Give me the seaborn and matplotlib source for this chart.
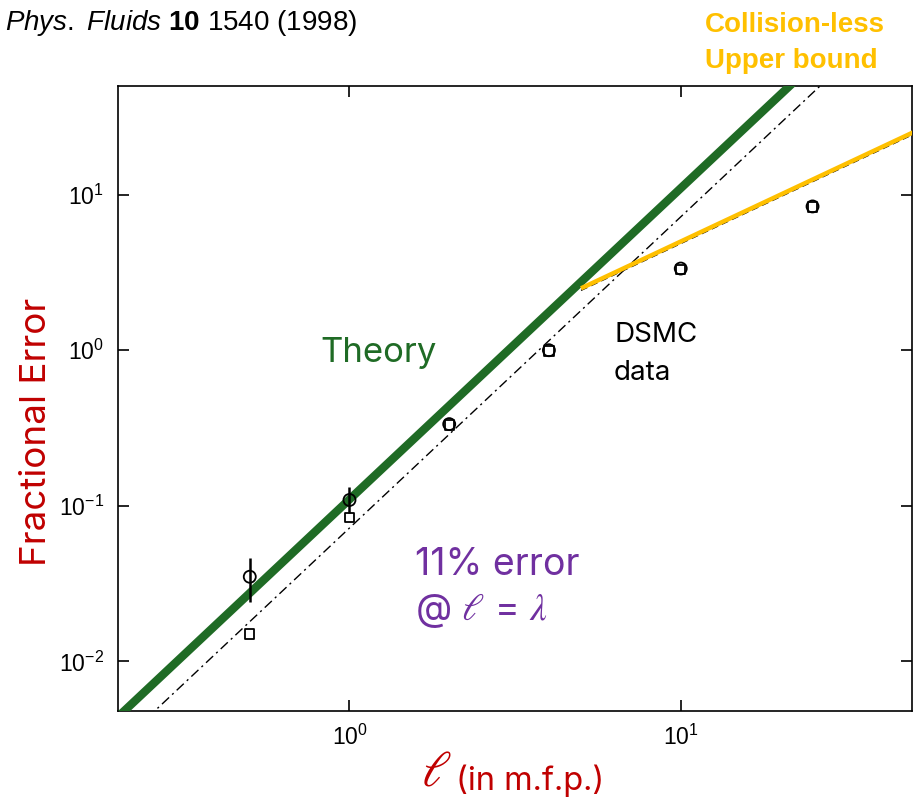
import math
import matplotlib
matplotlib.use("Agg")
import matplotlib.pyplot as plt
import seaborn as sns
from matplotlib.ticker import FuncFormatter, NullLocator

sns.set_style("ticks")
plt.rcParams['font.family'] = ['Liberation Sans', 'DejaVu Sans']
plt.rcParams['text.color'] = 'black'
plt.rcParams['mathtext.fontset'] = 'custom'
plt.rcParams['mathtext.rm'] = 'Liberation Sans'
plt.rcParams['mathtext.it'] = 'Liberation Sans:italic'
plt.rcParams['mathtext.bf'] = 'Liberation Sans:bold'

# DSMC data
ell_pts = [0.5, 1, 2, 4, 10, 25]
err_circle = [0.035, 0.109, 0.335, 1.0, 3.35, 8.4]
err_square = [0.015, 0.084, 0.33, 0.99, 3.3, 8.35]
bar_ell = [0.5, 1]
bar_lo = [0.024, 0.090]
bar_hi = [0.046, 0.132]

# straight lines in log-log, end points
theory_ell = [0.2, 25]
theory_err = [0.0044, 68.75]
fit_ell = [0.2, 30]
fit_err = [0.00288, 64.8]
bound_ell = [5, 60]
bound_err = [2.5, 30]

GREEN = "#1F6B25"
GOLD = "#FFC000"
RED = "#C00000"
PURPLE = "#7030A0"

fig = plt.figure(figsize=(9.13, 8), dpi=100)
ax = fig.add_axes([0.1292, 0.1113, 0.8700, 0.7813])

sns.lineplot(x=fit_ell, y=fit_err, ax=ax, color="black", lw=1.0,
             ls=(0, (7, 3, 1.5, 3)), zorder=2)
sns.lineplot(x=bound_ell, y=[v * 0.97 for v in bound_err], ax=ax, color="black",
             lw=1.0, ls=(0, (5, 3)), zorder=2)
sns.lineplot(x=theory_ell, y=theory_err, ax=ax, color=GREEN, lw=6,
             solid_capstyle="butt", zorder=3)
sns.lineplot(x=bound_ell, y=bound_err, ax=ax, color=GOLD, lw=3.2,
             solid_capstyle="butt", zorder=3)

ax.vlines(bar_ell, bar_lo, bar_hi, color="black", lw=1.8, zorder=4)
sns.scatterplot(x=ell_pts, y=err_circle, ax=ax, marker="o", s=75,
                facecolor="none", edgecolor="black", linewidth=1.3, zorder=5)
sns.scatterplot(x=ell_pts, y=err_square, ax=ax, marker="s", s=45,
                facecolor="none", edgecolor="black", linewidth=1.3, zorder=5)

ax.set_xscale("log")
ax.set_yscale("log")
ax.set_xlim(0.2, 50)
ax.set_ylim(0.0048, 50)
ax.set_xticks([1, 10])
ax.set_yticks([0.01, 0.1, 1, 10])
ax.xaxis.set_minor_locator(NullLocator())
ax.yaxis.set_minor_locator(NullLocator())
fmt = FuncFormatter(lambda v, p: r"$\mathregular{10^{%d}}$" % round(math.log10(v)))
ax.xaxis.set_major_formatter(fmt)
ax.yaxis.set_major_formatter(fmt)
ax.tick_params(direction="in", length=8, width=1.2, top=True, right=True,
               labelsize=16.5, pad=10, colors="black")
for s in ax.spines.values():
    s.set_linewidth(1.2)
    s.set_color("black")
ax.set_xlabel("")
ax.set_ylabel("")

fig.text(0.005, 1 - 30 / 800, r"$\it{Phys.}$ $\it{Fluids}$ $\bf{10}$ 1540 (1998)",
         fontsize=20, va="baseline", ha="left")
fig.text(705 / 913, 1 - 32 / 800, "Collision-less", fontsize=20, weight="bold",
         color=GOLD, va="baseline")
fig.text(705 / 913, 1 - 68 / 800, "Upper bound", fontsize=20, weight="bold",
         color=GOLD, va="baseline")

fig.text(320 / 913, 1 - 353 / 800, "Theory", fontsize=25, color=GREEN,
         family="Inter", va="center")
fig.text(614 / 913, 1 - 335 / 800, "DSMC", fontsize=20, color="black",
         family="Inter", va="center")
fig.text(614 / 913, 1 - 373 / 800, "data", fontsize=20, color="black",
         family="Inter", va="center")
fig.text(415 / 913, 1 - 565 / 800, "11% error", fontsize=27, color=PURPLE,
         family="Inter", va="center")
fig.text(415 / 913, 1 - 610 / 800, r"@ $\ell$ = $\lambda$", fontsize=27,
         color=PURPLE, family="Inter", va="center", math_fontfamily="stix")

fig.text(37 / 913, 1 - 432 / 800, "Fractional Error", fontsize=26.5, color=RED,
         family="Inter", rotation=90, va="center", ha="center")
fig.text(436 / 913, 1 - 773 / 800, r"$\ell$", fontsize=36, color=RED,
         va="center", ha="center", math_fontfamily="stix")
fig.text(456 / 913, 1 - 781 / 800, "(in m.f.p.)", fontsize=23.5, color=RED,
         family="Inter", va="center", ha="left")

fig.savefig("out.png", dpi=100)
